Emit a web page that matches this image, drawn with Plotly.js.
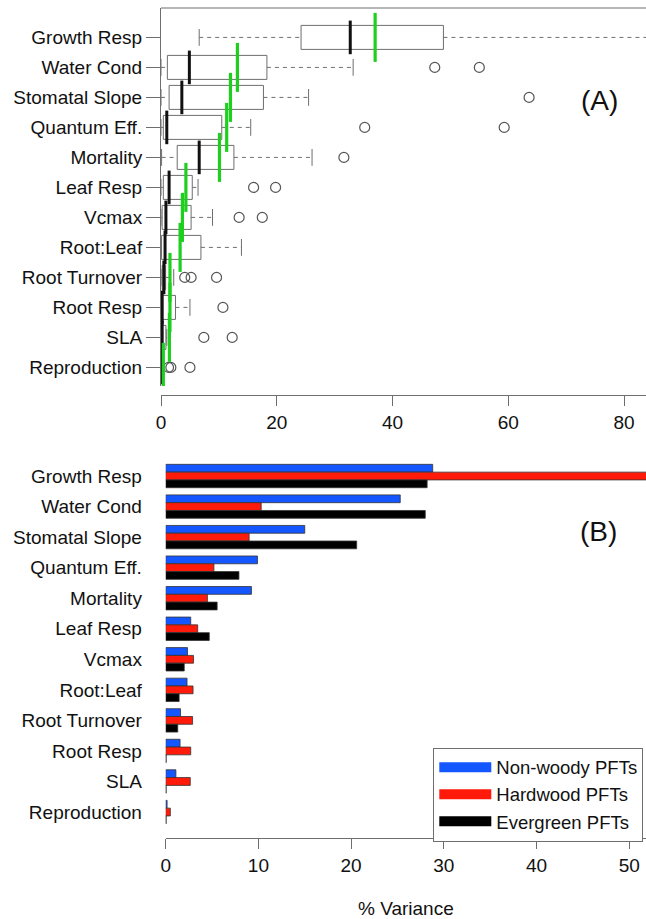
<!DOCTYPE html>
<html>
<head>
<meta charset="utf-8">
<script src="https://cdn.plot.ly/plotly-3.0.1.min.js"></script>
<style>html,body{margin:0;padding:0;background:#fff;}#chart{width:646px;height:919px;}</style>
</head>
<body>
<div id="chart"></div>
<script>
// ---------- data ----------
const params = ["Growth Resp","Water Cond","Stomatal Slope","Quantum Eff.","Mortality","Leaf Resp","Vcmax","Root:Leaf","Root Turnover","Root Resp","SLA","Reproduction"];

// Panel A: distribution of % variance across PFTs
const lowerWhisker = [6.6, 0, 0, 0, 0.1, 0, 0, 0, 0, 0, 0, 0];
const q1Vals       = [24.2, 1.1, 1.4, 0.4, 2.8, 0.4, 0.2, 0.1, 0.2, 0.1, 0.05, 0];
const medianVals   = [32.7, 4.9, 3.6, 1.0, 6.6, 1.4, 0.85, 0.7, 0.5, 0.2, 0.2, 0.02];
const q3Vals       = [48.8, 18.3, 17.7, 10.5, 12.6, 5.4, 5.2, 6.9, 0.8, 2.5, 0.85, 0.3];
const upperWhisker = [100, 33.2, 25.5, 15.5, 26.1, 6.4, 8.9, 13.9, 2.2, 5.0, 1.0, 0.5];
const meanVals     = [37.0, 13.2, 12.0, 11.35, 10.1, 4.3, 3.7, 3.3, 1.55, 1.55, 1.45, 0.4];
const outlierParam = ["Water Cond","Water Cond","Stomatal Slope","Quantum Eff.","Quantum Eff.","Mortality","Leaf Resp","Leaf Resp","Vcmax","Vcmax","Root Turnover","Root Turnover","Root Turnover","Root Resp","SLA","SLA","Reproduction","Reproduction","Reproduction"];
const outlierVals  = [47.3, 55.0, 63.6, 35.2, 59.3, 31.6, 16.0, 19.8, 13.5, 17.5, 4.1, 5.2, 9.6, 10.7, 7.4, 12.3, 1.3, 1.7, 5.0];

// Panel B: % variance by PFT group
const seriesNames = ["Non-woody PFTs","Hardwood PFTs","Evergreen PFTs"];
const nonWoody  = [28.8, 25.3, 15.0, 9.9, 9.25, 2.7, 2.35, 2.3, 1.6, 1.55, 1.1, 0.15];
const hardwood  = [62.0, 10.3, 9.0, 5.2, 4.5, 3.45, 3.0, 2.95, 2.9, 2.7, 2.65, 0.5];
const evergreen = [28.2, 28.0, 20.6, 7.9, 5.55, 4.7, 2.0, 1.45, 1.3, 0.05, 0.05, 0.05];
const seriesColors = ["#1456ff", "#ff1a0a", "#000000"];

const topTicks = [0, 20, 40, 60, 80];
const bottomTicks = [0, 10, 20, 30, 40, 50];

// ---------- build ----------
const FONT = "Liberation Sans, Arial, sans-serif";
const GRAY = "#6e6e6e";
const W = 646, H = 919;
const px = v => v / W, py = v => 1 - v / H;

const whiskX = [], whiskY = [];
params.forEach((p, i) => {
  whiskX.push(lowerWhisker[i], q1Vals[i], null, q3Vals[i], upperWhisker[i], null);
  whiskY.push(p, p, null, p, p, null);
});

const traces = [
  { type: "scatter", mode: "lines", x: whiskX, y: whiskY, xaxis: "x", yaxis: "y",
    line: { color: GRAY, width: 1, dash: "4px,4px" }, showlegend: false, hoverinfo: "skip" },
  { type: "scatter", mode: "markers", x: lowerWhisker.concat(upperWhisker), y: params.concat(params),
    xaxis: "x", yaxis: "y", showlegend: false,
    marker: { symbol: "line-ns", size: 12, line: { color: GRAY, width: 1 } } },
  { type: "box", orientation: "h", y: params, q1: q1Vals, median: medianVals, q3: q3Vals,
    lowerfence: q1Vals, upperfence: q3Vals, boxpoints: false, width: 0.8, whiskerwidth: 0,
    xaxis: "x", yaxis: "y", fillcolor: "#ffffff", line: { color: GRAY, width: 1 }, showlegend: false },
  { type: "scatter", mode: "markers", x: outlierVals, y: outlierParam, xaxis: "x", yaxis: "y",
    showlegend: false, marker: { symbol: "circle-open", size: 10, color: "#555", line: { color: "#555", width: 1.2 } } },
  { type: "scatter", mode: "markers", x: medianVals, y: params, xaxis: "x", yaxis: "y", showlegend: false,
    marker: { symbol: "line-ns", size: 24, line: { color: "#111", width: 3 } } },
  { type: "scatter", mode: "markers", x: meanVals, y: params, xaxis: "x", yaxis: "y", showlegend: false,
    marker: { symbol: "line-ns", size: 35, line: { color: "#1ed01e", width: 3.2 } } }
];

[nonWoody, hardwood, evergreen].forEach((vals, k) => {
  traces.push({ type: "bar", orientation: "h", x: vals, y: params, name: seriesNames[k],
    xaxis: "x2", yaxis: "y2", showlegend: false,
    marker: { color: seriesColors[k], line: { color: "#333", width: 0.8 } } });
});
seriesNames.forEach((n, k) => {
  traces.push({ type: "scatter", mode: "lines", x: [null], y: [null], name: n, xaxis: "x2", yaxis: "y2",
    line: { color: seriesColors[k], width: 12 } });
});

const tickFont = { family: FONT, size: 19, color: "#111" };

const layout = {
  width: W, height: H,
  margin: { l: 0, r: 0, t: 0, b: 0 },
  paper_bgcolor: "#fff", plot_bgcolor: "#fff",
  font: { family: FONT, size: 19, color: "#111" },
  barmode: "group", bargap: 0.235, bargroupgap: 0,
  xaxis: { domain: [px(161), 1], range: [0, 83.8], anchor: "free", position: py(395),
    showline: true, linecolor: GRAY, linewidth: 1, ticks: "outside", ticklen: 10, tickcolor: GRAY,
    tickvals: topTicks, showgrid: false, zeroline: false, tickfont: tickFont, automargin: false },
  yaxis: { domain: [py(386), py(8)], type: "category", categoryorder: "array", categoryarray: params,
    range: [11.62, -0.98], anchor: "x", showline: true, linecolor: GRAY, linewidth: 1,
    ticks: "outside", ticklen: 14, tickcolor: GRAY, showgrid: false, zeroline: false,
    tickfont: tickFont, automargin: false },
  xaxis2: { domain: [px(165.7), 1], range: [0, 51.81], anchor: "y2",
    showline: true, linecolor: GRAY, linewidth: 1, ticks: "outside", ticklen: 10, tickcolor: GRAY,
    tickvals: bottomTicks, showgrid: false, zeroline: false, tickfont: tickFont, automargin: false,
    title: { text: "% Variance", font: { family: FONT, size: 19, color: "#111" }, standoff: 28 } },
  yaxis2: { domain: [py(838), py(457.7)], type: "category", categoryorder: "array", categoryarray: params,
    range: [11.85, -0.6], anchor: "x2", showline: false, ticks: "outside", ticklen: 19,
    tickcolor: "rgba(0,0,0,0)", showgrid: false, zeroline: false, tickfont: tickFont, automargin: false },
  legend: { x: px(433.3), y: py(747.7), xanchor: "left", yanchor: "top", bgcolor: "#fff",
    bordercolor: GRAY, borderwidth: 1, font: { family: FONT, size: 18.5, color: "#111" },
    itemwidth: 52, tracegroupgap: 0 },
  showlegend: true,
  shapes: [
    { type: "line", xref: "paper", yref: "paper", x0: px(161), x1: 1, y0: py(8), y1: py(8),
      line: { color: GRAY, width: 1 } }
  ],
  annotations: [
    { text: "(A)", xref: "paper", yref: "paper", x: px(620), y: py(83), showarrow: false,
      font: { family: FONT, size: 28, color: "#111" } },
    { text: "(B)", xref: "paper", yref: "paper", x: px(619), y: py(531), showarrow: false,
      font: { family: FONT, size: 28, color: "#111" } }
  ]
};

Plotly.newPlot("chart", traces, layout, { staticPlot: true, displayModeBar: false });
</script>
</body>
</html>
